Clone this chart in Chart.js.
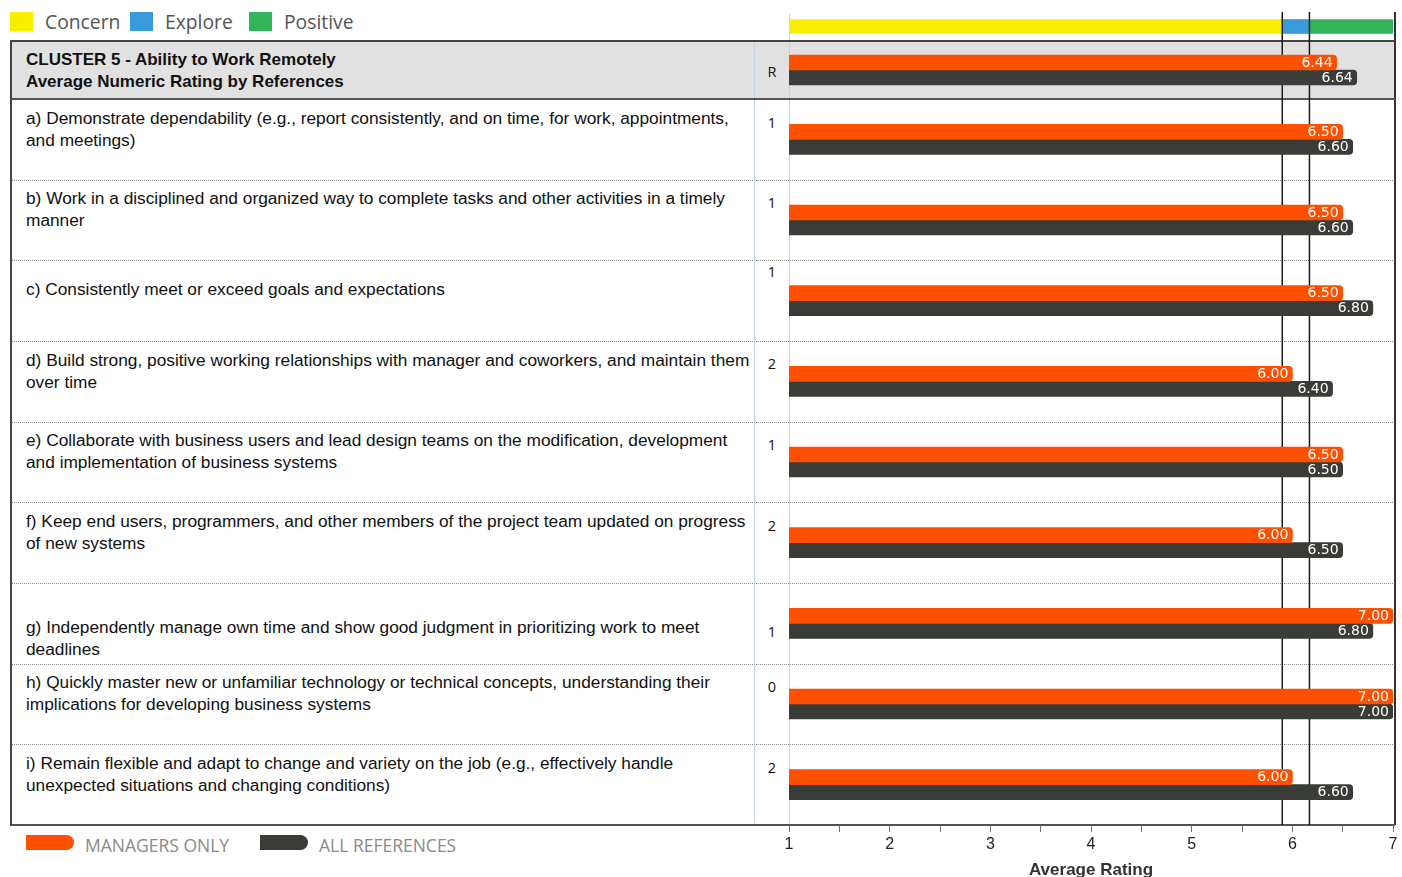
<!DOCTYPE html>
<html>
<head>
<meta charset="utf-8">
<script src="https://cdn.jsdelivr.net/npm/chart.js@4.4.0/dist/chart.umd.min.js"></script>
<style>
  html, body { margin: 0; padding: 0; background: #fff; overflow: hidden; }
  body { width: 1402px; height: 877px; position: relative; font-family: "Liberation Sans", Arial, sans-serif; }
  .abs { position: absolute; }
  .legend-box { position: absolute; top: 12px; width: 23px; height: 19px; }
  .legend-text { position: absolute; top: 8px; font-family: "Open Sans", sans-serif; font-size: 19.3px; line-height: 28px; color: #555; }
  .item-text { position: absolute; left: 26px; font-size: 17.3px; line-height: 22px; color: #111; white-space: nowrap; }
  .head-text { font-size: 17px; font-weight: bold; }
  .r-text { position: absolute; left: 756px; width: 32px; text-align: center; font-family: "Open Sans", sans-serif; font-size: 14.5px; line-height: 20px; color: #111; }
  .dotted { position: absolute; left: 10px; width: 1385px; height: 0; border-top: 1px dotted #8a8a8a; }
  .pill { position: absolute; top: 835px; width: 48px; height: 15px; border-radius: 0 8px 8px 0; }
  .pill-text { position: absolute; top: 833px; font-family: "Open Sans", sans-serif; font-size: 17.5px; line-height: 24px; color: #8a8a8a; }
  canvas { position: absolute; }
</style>
</head>
<body>
<div id="page"></div>
<canvas id="bandChart" width="633" height="29" style="left:769px; top:12px;"></canvas>
<canvas id="headChart" width="633" height="58" style="left:769px; top:41px;"></canvas>
<canvas id="itemChart" width="633" height="778" style="left:769px; top:99px;"></canvas>
<script>
// 数据
const zoneNames = ['Concern', 'Explore', 'Positive'];
const zoneRanges = [[1, 5.9], [5.9, 6.17], [6.17, 7]];
const seriesNames = ['MANAGERS ONLY', 'ALL REFERENCES'];

const clusterTitle = ['CLUSTER 5 - Ability to Work Remotely', 'Average Numeric Rating by References'];
const clusterR = 'R';
const clusterManagers = 6.44;
const clusterAll = 6.64;

const itemLabels = [
    ['a) Demonstrate dependability (e.g., report consistently, and on time, for work, appointments,', 'and meetings)'],
    ['b) Work in a disciplined and organized way to complete tasks and other activities in a timely', 'manner'],
    ['c) Consistently meet or exceed goals and expectations'],
    ['d) Build strong, positive working relationships with manager and coworkers, and maintain them', 'over time'],
    ['e) Collaborate with business users and lead design teams on the modification, development', 'and implementation of business systems'],
    ['f) Keep end users, programmers, and other members of the project team updated on progress', 'of new systems'],
    ['g) Independently manage own time and show good judgment in prioritizing work to meet', 'deadlines'],
    ['h) Quickly master new or unfamiliar technology or technical concepts, understanding their', 'implications for developing business systems'],
    ['i) Remain flexible and adapt to change and variety on the job (e.g., effectively handle', 'unexpected situations and changing conditions)']
];
const itemR = [1, 1, 1, 2, 1, 2, 1, 0, 2];
const managersOnly = [6.50, 6.50, 6.50, 6.00, 6.50, 6.00, 7.00, 7.00, 6.00];
const allReferences = [6.60, 6.60, 6.80, 6.40, 6.50, 6.50, 6.80, 7.00, 6.60];
const axisMin = 1;
const axisMax = 7;
const axisTitle = 'Average Rating';

// 样式与布局
const zoneColors = ['#f7ee00', '#3a9bdc', '#33b35a'];
const seriesColors = ['#ff5000', '#3a3c38'];
const zoneLegendX = [10, 130, 249];
const seriesLegendX = [26, 260];
const rowTop = 99;
const rowHeight = 726 / 9;
const textOffset = [8, 7, 18, 8, 7, 8, 33, 7, 8];
const rOffset = [14, 13, 2, 13, 13, 14, 39, 13, 14];

const page = document.getElementById('page');
function addEl(cls, css, text) {
    const el = document.createElement('div');
    el.className = cls;
    el.style.cssText = css;
    if (text !== undefined) el.innerHTML = text;
    page.appendChild(el);
    return el;
}

function buildTable() {
    // 顶部图例
    zoneNames.forEach((name, i) => {
        addEl('legend-box', `left:${zoneLegendX[i]}px; background:${zoneColors[i]};`);
        addEl('legend-text', `left:${zoneLegendX[i] + 35}px;`, name);
    });

    // 表头背景
    addEl('abs', 'left:10px; top:41px; width:1385px; height:58px; background:#e1e1e1;');
    // 行分隔线
    for (let k = 1; k < itemLabels.length; k++) {
        addEl('dotted', `top:${Math.round(rowTop + k * rowHeight)}px;`);
    }
    // 竖线
    addEl('abs', 'left:754px; top:41px; width:1px; height:784px; background:#c3d3e3;');
    addEl('abs', 'left:789px; top:14px; width:1px; height:811px; background:#c3d3e3;');
    addEl('abs', 'left:1394px; top:12px; width:1.5px; height:813px; background:#333;');
    // 外框
    addEl('abs', 'left:10px; top:40px; width:1385px; height:1.5px; background:#444;');
    addEl('abs', 'left:10px; top:98px; width:1385px; height:1.5px; background:#555;');
    addEl('abs', 'left:10px; top:824px; width:1385px; height:1.5px; background:#555;');
    addEl('abs', 'left:10px; top:40px; width:1.5px; height:785px; background:#444;');

    // 表头文字
    addEl('item-text head-text', 'top:49px;', clusterTitle.join('<br>'));
    addEl('r-text', 'top:62px;', clusterR);

    // 各项文字
    itemLabels.forEach((lines, i) => {
        const top = Math.round(rowTop + i * rowHeight);
        addEl('item-text', `top:${top + textOffset[i]}px;`, lines.join('<br>'));
        addEl('r-text', `top:${top + rOffset[i]}px;`, itemR[i]);
    });

    // 底部图例
    seriesNames.forEach((name, i) => {
        addEl('pill', `left:${seriesLegendX[i]}px; background:${seriesColors[i]};`);
        addEl('pill-text', `left:${seriesLegendX[i] + 59}px;`, name);
    });
}

// 插件
const zoneBreaks = zoneRanges.slice(1).map(r => r[0]);

function drawBreaks(chart) {
    const { ctx, scales: { x }, chartArea } = chart;
    ctx.save();
    ctx.strokeStyle = '#1a1a1a';
    ctx.lineWidth = 1.5;
    zoneBreaks.forEach(v => {
        const px = x.getPixelForValue(v);
        ctx.beginPath();
        ctx.moveTo(px, 0);
        ctx.lineTo(px, chartArea.bottom);
        ctx.stroke();
    });
    ctx.restore();
}

const breakLinesBehind = { id: 'breakLinesBehind', beforeDatasetsDraw: drawBreaks };
const breakLinesFront = { id: 'breakLinesFront', afterDatasetsDraw: drawBreaks };

const valueLabels = {
    id: 'valueLabels',
    afterDatasetsDraw(chart) {
        const { ctx } = chart;
        ctx.save();
        ctx.font = '14px "DejaVu Sans", Verdana, sans-serif';
        ctx.fillStyle = '#fff';
        ctx.textAlign = 'right';
        ctx.textBaseline = 'middle';
        chart.data.datasets.forEach((ds, i) => {
            chart.getDatasetMeta(i).data.forEach((bar, j) => {
                ctx.fillText(ds.data[j].toFixed(2), bar.x - 4, bar.y + 0.5);
            });
        });
        ctx.restore();
    }
};

function baseOptions() {
    return {
        indexAxis: 'y',
        responsive: false,
        animation: false,
        layout: { padding: { left: 20, right: 9, top: 0, bottom: 0 } },
        plugins: { legend: { display: false }, tooltip: { enabled: false } },
        scales: {
            x: { min: axisMin, max: axisMax, display: false },
            y: { display: false }
        }
    };
}

function seriesDatasets(managers, all) {
    return [managers, all].map((data, i) => ({
        label: seriesNames[i],
        data: data,
        backgroundColor: seriesColors[i],
        barThickness: 15,
        borderRadius: 4,
        borderSkipped: false
    }));
}

function renderCharts() {
    new Chart(document.getElementById('bandChart'), {
        type: 'bar',
        data: {
            labels: ['zones'],
            datasets: zoneNames.map((name, i) => ({
                label: name,
                data: [zoneRanges[i]],
                backgroundColor: zoneColors[i],
                barThickness: 14,
                grouped: false
            }))
        },
        options: baseOptions(),
        plugins: [breakLinesFront]
    });

    new Chart(document.getElementById('headChart'), {
        type: 'bar',
        data: {
            labels: [clusterR],
            datasets: seriesDatasets([clusterManagers], [clusterAll])
        },
        options: baseOptions(),
        plugins: [breakLinesBehind, valueLabels]
    });

    const itemOpts = baseOptions();
    itemOpts.scales.x = {
        min: axisMin,
        max: axisMax,
        display: true,
        ticks: {
            stepSize: 0.5,
            autoSkip: false,
            maxRotation: 0,
            padding: 3,
            color: '#222',
            font: { family: '"Liberation Sans Narrow", "Liberation Sans", Arial', size: 16 },
            callback: v => Number.isInteger(v) ? v : ''
        },
        grid: { drawOnChartArea: false, drawTicks: true, tickLength: 7, color: '#777', lineWidth: 1 },
        border: { display: true, color: '#555', width: 1.5 },
        title: {
            display: true,
            text: axisTitle,
            color: '#333',
            font: { family: '"Liberation Sans", Arial', size: 17, weight: 'bold' },
            padding: { top: 0, bottom: -4 }
        },
        afterFit: s => { s.height = 52; }
    };

    new Chart(document.getElementById('itemChart'), {
        type: 'bar',
        data: {
            labels: itemLabels.map(l => l[0].slice(0, 2)),
            datasets: seriesDatasets(managersOnly, allReferences)
        },
        options: itemOpts,
        plugins: [breakLinesBehind, valueLabels]
    });
}

buildTable();
renderCharts();
</script>
</body>
</html>
